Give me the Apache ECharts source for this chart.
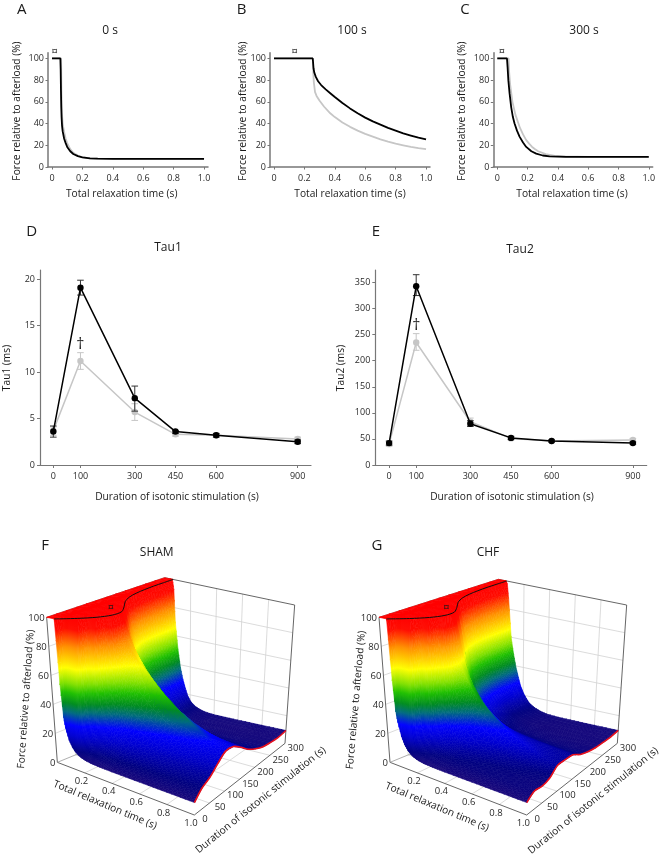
<!DOCTYPE html>
<html>
<head>
<meta charset="utf-8">
<style>html,body{margin:0;background:#fff}#main{width:661px;height:856px;filter:blur(0.5px)}</style>
<script src="https://cdn.jsdelivr.net/npm/echarts@6/dist/echarts.min.js"></script>
</head>
<body>
<div id="main"></div>
<script>
// panels A-C: relaxation curves [time (s), force (%)]
const curveA_black = [[0,100],[.055,100],[.057,90],[.059,70],[.061,55],[.063,46],[.066,38],[.07,33],[.08,26],[.09,22],[.1,18.5],[.12,14.5],[.14,12],[.17,10],[.2,8.9],[.25,8],[.3,7.7],[.4,7.5],[.6,7.5],[.8,7.5],[1,7.5]];
const curveA_grey = [[0,100],[.06,100],[.062,70],[.065,50],[.07,40],[.08,32],[.09,26],[.1,22],[.12,16.5],[.14,13],[.17,10.5],[.2,9],[.25,8],[.3,7.7],[.5,7.5],[1,7.5]];
const curveB_black = [[0,100],[.255,100],[.26,91],[.265,87],[.275,83],[.29,79],[.31,75.5],[.34,71.5],[.37,68],[.4,64.5],[.45,59],[.5,54],[.55,49.5],[.6,45.5],[.65,42],[.7,39],[.75,36],[.8,33.5],[.85,31],[.9,29],[.95,27],[1,25.5]];
const curveB_grey = [[0,100],[.255,100],[.258,88],[.262,78],[.27,69],[.28,65.5],[.3,61],[.33,55.5],[.37,49.5],[.4,46],[.45,41],[.5,37],[.55,33.5],[.6,30.5],[.65,28],[.7,25.5],[.75,23.3],[.8,21.5],[.85,20],[.9,18.5],[.95,17.4],[1,16.5]];
const curveC_black = [[0,100],[.064,100],[.068,92],[.073,80],[.081,68],[.092,55],[.103,46],[.114,40],[.13,33.5],[.147,28],[.17,22.5],[.191,18.5],[.225,14.5],[.257,12.3],[.3,10.6],[.345,9.8],[.45,9.4],[.7,9.3],[1,9.3]];
const curveC_grey = [[0,100],[.075,100],[.078,88],[.085,76],[.1,60],[.12,48],[.15,36],[.17,30],[.19,25],[.21,21.5],[.23,18.5],[.25,16.3],[.27,14.5],[.32,11.8],[.38,10.2],[.45,9.7],[.6,9.4],[1,9.3]];
const relaxTicks = [0,.2,.4,.6,.8,1];
const forceTicks = [0,20,40,60,80,100];

// panels D-E
const stimDurations = [0,100,300,450,600,900];
const tau1Ticks = [0,5,10,15,20];
const tau1_black = [3.6,19.1,7.2,3.6,3.2,2.5];
const tau1_black_low = [3,18.3,5.8,3.4,3,2.3];
const tau1_black_high = [4.2,19.9,8.5,3.7,3.4,2.7];
const tau1_grey = [3.7,11.2,5.7,3.3,3.2,2.8];
const tau1_grey_low = [3.2,10.3,4.8,3.1,3,2.6];
const tau1_grey_high = [4.1,12.1,6.6,3.5,3.4,3];
const tau2Ticks = [0,50,100,150,200,250,300,350];
const tau2_black = [42,343,79,52,46,42];
const tau2_black_low = [38,325,74,49,44,40];
const tau2_black_high = [46,365,85,55,48,44];
const tau2_grey = [40,235,83,51,46,48];
const tau2_grey_low = [36,220,75,48,44,45];
const tau2_grey_high = [44,252,90,54,48,51];

// panels F-G: force surface, one row per duration, one column per time
const surfTimes = [0,.05,.06,.07,.08,.1,.12,.14,.16,.18,.2,.22,.25,.27,.3,.35,.4,.5,.6,.7,.8,.9,1];
const surfDurations = [0,25,50,75,100,125,150,175,200,225,250,275,300];
const plateauEnd = [.05,.14,.21,.25,.25,.2,.14,.1,.08,.07,.065,.065,.065];
const shamForce = [
  [100,100,55,33,26,18.5,14.5,12,10.5,9.5,8.9,8.4,8,7.9,7.7,7.6,7.5,7.5,7.5,7.5,7.5,7.5,7.5],
  [100,100,100,100,100,100,100,100,72,48,36,29,24,22,20,18,17,15.5,14.8,14.2,13.7,13.3,13],
  [100,100,100,100,100,100,100,100,100,100,100,78,55,46,38,31,27,23,20.5,19,17.8,16.8,16],
  [100,100,100,100,100,100,100,100,100,100,100,100,100,80,64,52,45,36,31,27,24.5,22.5,21],
  [100,100,100,100,100,100,100,100,100,100,100,100,100,83,76,70,65,54.5,46,39.5,33.5,29,25.5],
  [100,100,100,100,100,100,100,100,100,100,100,86,76,72,67,60,54,45,38,33,29.5,27,25],
  [100,100,100,100,100,100,100,100,84,73,66,61,55,52,47.5,41,36,30,26.5,24.5,23,22,21],
  [100,100,100,100,100,100,80,66,56,49,43,38.5,33,30.5,27.5,24,22,19.5,18,17,16.5,16.2,16],
  [100,100,100,100,100,74,58,47,39,33,28.5,25,21.5,20,18,16,15,14,13.5,13,12.8,12.6,12.5],
  [100,100,100,100,86,62,47,37,30,25,21.5,19,16.5,15,13.5,12,11.2,10.6,10.3,10.1,10,10,10],
  [100,100,100,96,80,58,44,34,27,22,18.5,16,13.5,12.5,11.3,10.2,9.6,9.2,9,9,9,9,9],
  [100,100,100,95,78,56,42,32,25.5,21,17.5,15,12.8,11.8,10.7,9.7,9.2,8.8,8.6,8.5,8.5,8.5,8.5],
  [100,100,100,93,70,51,38,30,24,19,16,14,12.2,11.5,10.6,9.8,9.5,9.4,9.3,9.3,9.3,9.3,9.3]
];
const chfForce = [
  [100,100,58,37,30,21,16,13,11,9.8,9,8.5,8,7.9,7.7,7.6,7.5,7.5,7.5,7.5,7.5,7.5,7.5],
  [100,100,100,100,100,100,100,100,68,42,30,24,19,17,15,13.5,12.8,12,11.7,11.4,11.2,11.1,11],
  [100,100,100,100,100,100,100,100,100,100,100,72,44,35,27,21,18,15,13.5,12.5,11.7,11,10.5],
  [100,100,100,100,100,100,100,100,100,100,100,100,100,72,52,38,30,22.5,18.5,16,14.5,13,12],
  [100,100,100,100,100,100,100,100,100,100,100,100,100,69,61,52,46,37,30.5,25.5,21.5,18.5,16.5],
  [100,100,100,100,100,100,100,100,100,100,100,74,60,55,49,42,36,29,24.5,21.5,19.5,17.8,16.5],
  [100,100,100,100,100,100,100,100,76,61,52,46,39,35.5,31.5,27,24,21,19.5,18.3,17.5,16.7,16],
  [100,100,100,100,100,100,76,60,49,41,35,30.5,26,23.5,21,18.5,17,15.3,14.3,13.6,13.1,12.7,12.5],
  [100,100,100,100,100,72,56,45,37,31,26.5,23,19.5,17.8,15.8,13.8,12.7,11.6,11.1,10.8,10.6,10.5,10.5],
  [100,100,100,100,88,64,49,39,32,27,23,20,17,15.5,13.8,12,11,10.2,9.8,9.6,9.4,9.3,9.3],
  [100,100,100,97,82,60,46,36,29,24,20,17,14.3,13,11.7,10.4,9.7,9.2,9,9,9,9,9],
  [100,100,100,96,84,60,47,38,31,25.5,21.5,18.5,15,13.6,12.2,10.7,9.9,9.3,9,8.8,8.7,8.7,8.7],
  [100,100,100,98,88,60,48,39,32,26,22,19,15.5,14,12.6,11,10,9.5,9.4,9.3,9.3,9.3,9.3]
];
const surfTimeTicks = [.2,.4,.6,.8,1];
const surfDurTicks = [0,50,100,150,200,250,300];
const surfForceTicks = [0,20,40,60,80,100];
const surfGridTimes = [.2,.4,.6,.8];
const surfGridForce = [20,40,60,80];

const FONT = '"Open Sans", "Noto Sans", sans-serif';
const BLACK = '#000', GREY = '#c6c6c6', AXIS = '#777', TEXT = '#2a2a2a';

// force -> colour, jet-like scale of the surface plots
const colourScale = [
  [0,'#1c0a7a'],[7,'#1c0a7a'],[13,'#000080'],[22,'#0000d0'],[29,'#0000ff'],[37,'#006a80'],[43,'#008c20'],
  [50,'#20c000'],[56,'#80e000'],[66,'#ffff00'],[80,'#ff9000'],[92,'#ff0c00'],[100,'#ff0000']
];
function hexRgb(h) { return [1,3,5].map(i => parseInt(h.substr(i,2),16)); }
function colourAt(z) {
  for (let i = 1; i < colourScale.length; i++) {
    if (z <= colourScale[i][0]) {
      const a = colourScale[i-1], b = colourScale[i];
      const f = (z - a[0]) / (b[0] - a[0]);
      const ca = hexRgb(a[1]), cb = hexRgb(b[1]);
      return 'rgb(' + ca.map((v,k) => Math.round(v + (cb[k]-v)*f)).join(',') + ')';
    }
  }
  return colourScale[colourScale.length-1][1];
}

// box corners of the 3d plots in panel units (3 units = 1 px)
const boxF = {
  floor: [[172,697],[583,855],[855,640],[499,563]],
  top: [[140,262],[588,357],[884,225],[494,143]]
};
const boxG = {
  floor: [[180,697],[590,855],[862,640],[508,563]],
  top: [[147,262],[596,357],[890,225],[505,148]]
};
function project(box, t, d, z) {
  const u = t, v = d / 300, w = z / 100;
  const mix = c => {
    const p = [0,1].map(k =>
      (1-u)*(1-v)*c[0][k] + u*(1-v)*c[1][k] + u*v*c[2][k] + (1-u)*v*c[3][k]);
    return p;
  };
  const a = mix(box.floor), b = mix(box.top);
  return [a[0] + (b[0]-a[0])*w, a[1] + (b[1]-a[1])*w];
}

// one triangle of the mesh, shaded across its own force gradient
function triangle(pts, zs) {
  const zmax = Math.max(...zs), zmin = Math.min(...zs);
  let fill = colourAt(zs[0]);
  const e1x = pts[1][0]-pts[0][0], e1y = pts[1][1]-pts[0][1];
  const e2x = pts[2][0]-pts[0][0], e2y = pts[2][1]-pts[0][1];
  const det = e1x*e2y - e1y*e2x;
  if (zmax - zmin > 0.01 && Math.abs(det) > 1e-6) {
    const dz1 = zs[1]-zs[0], dz2 = zs[2]-zs[0];
    const gx = (dz1*e2y - dz2*e1y) / det, gy = (e1x*dz2 - e2x*dz1) / det;
    const g2 = gx*gx + gy*gy;
    const s = pts[zs.indexOf(zmin)];
    const r = (zmax - zmin) / g2;
    const stops = [{ offset: 0, color: colourAt(zmin) }];
    colourScale.forEach(c => {
      if (c[0] > zmin && c[0] < zmax) stops.push({ offset: (c[0]-zmin)/(zmax-zmin), color: c[1] });
    });
    stops.push({ offset: 1, color: colourAt(zmax) });
    fill = { type: 'linear', x: s[0], y: s[1], x2: s[0]+gx*r, y2: s[1]+gy*r, global: true, colorStops: stops };
  }
  return { type: 'polygon', shape: { points: pts },
    style: { fill: fill, stroke: fill, lineWidth: 0.6, lineJoin: 'round' }, silent: true };
}

function surfaceCells(force) {
  const cells = [];
  // back to front so that the nearer sheet covers the farther one
  for (let j = surfDurations.length - 2; j >= 0; j--) {
    for (let i = 0; i < surfTimes.length - 1; i++) {
      cells.push([surfTimes[i], surfDurations[j], surfTimes[i+1], surfDurations[j+1],
        force[j][i], force[j][i+1], force[j+1][i], force[j+1][i+1]]);
    }
  }
  return cells;
}

const CELL_STEPS = 3; // each cell is drawn as a small patch so the shading has no creases

function surfaceSeries(box, force, axis) {
  return {
    type: 'custom', coordinateSystem: 'cartesian2d', xAxisIndex: axis, yAxisIndex: axis,
    z: 3, clip: false, silent: true, progressive: 0, animation: false,
    data: surfaceCells(force),
    renderItem: function (params, api) {
      const v = [0,1,2,3,4,5,6,7].map(k => api.value(k));
      const flat = Math.max(v[4],v[5],v[6],v[7]) - Math.min(v[4],v[5],v[6],v[7]) < 0.01;
      const n = flat ? 1 : CELL_STEPS;
      const node = (a, b) => {
        const z = (1-a)*(1-b)*v[4] + a*(1-b)*v[5] + (1-a)*b*v[6] + a*b*v[7];
        return { z: z, p: api.coord(project(box, v[0]+(v[2]-v[0])*a, v[1]+(v[3]-v[1])*b, z)) };
      };
      const kids = [];
      for (let jb = n - 1; jb >= 0; jb--) {
        for (let ia = 0; ia < n; ia++) {
          const q00 = node(ia/n, jb/n), q10 = node((ia+1)/n, jb/n), q01 = node(ia/n, (jb+1)/n), q11 = node((ia+1)/n, (jb+1)/n);
          if (Math.abs(q00.z-q11.z) <= Math.abs(q10.z-q01.z)) {
            kids.push(triangle([q00.p,q11.p,q01.p],[q00.z,q11.z,q01.z]), triangle([q00.p,q10.p,q11.p],[q00.z,q10.z,q11.z]));
          } else {
            kids.push(triangle([q00.p,q10.p,q01.p],[q00.z,q10.z,q01.z]), triangle([q10.p,q11.p,q01.p],[q10.z,q11.z,q01.z]));
          }
        }
      }
      return { type: 'group', children: kids };
    }
  };
}

// walls, floor and tick labels behind the surface
function frameSeries(box, axis) {
  return {
    type: 'custom', coordinateSystem: 'cartesian2d', xAxisIndex: axis, yAxisIndex: axis,
    z: 2, clip: false, silent: true, animation: false, data: [[0,0]],
    renderItem: function (params, api) {
      const p = (t,d,z) => api.coord(project(box, t, d, z));
      const kids = [];
      const seg = (a, b, color, w) => kids.push({
        type: 'line', shape: { x1: a[0], y1: a[1], x2: b[0], y2: b[1] },
        style: { stroke: color, lineWidth: w }, silent: true
      });
      const txt = (s, pos, dx, dy, align) => {
        const q = project(box, pos[0], pos[1], pos[2]);
        const c = api.coord([q[0] + dx, q[1] + dy]);
        kids.push({ type: 'text', x: c[0], y: c[1], silent: true,
          style: { text: s, align: align, verticalAlign: 'middle', fill: TEXT, font: '9.5px ' + FONT } });
      };
      surfGridForce.forEach(z => {
        seg(p(0,300,z), p(1,300,z), '#d2d2d2', 0.8);
        seg(p(0,0,z), p(0,300,z), '#d2d2d2', 0.8);
      });
      surfGridTimes.forEach(t => {
        seg(p(t,300,0), p(t,300,100), '#d2d2d2', 0.8);
        seg(p(t,0,0), p(t,300,0), '#d2d2d2', 0.8);
      });
      surfDurTicks.slice(1,-1).forEach(d => {
        seg(p(0,d,0), p(1,d,0), '#d2d2d2', 0.8);
        seg(p(0,d,0), p(0,d,100), '#d2d2d2', 0.8);
      });
      seg(p(0,0,100), p(0,300,100), '#777', 0.9);
      seg(p(0,300,100), p(1,300,100), '#555', 0.9);
      seg(p(1,300,100), p(1,300,0), '#555', 0.9);
      seg(p(0,0,100), p(0,0,0), '#555', 0.9);
      seg(p(0,0,0), p(1,0,0), '#555', 0.9);
      seg(p(1,0,0), p(1,300,0), '#555', 0.9);
      seg(p(0,0,0), p(0,300,0), '#999', 0.8);
      surfForceTicks.forEach(z => txt(String(z), [0,0,z], -6, 3, 'right'));
      surfTimeTicks.forEach(t => txt(t.toFixed(1), [t,0,0], -10, 25, 'center'));
      surfDurTicks.forEach(d => txt(String(d), [1,d,0], 32, 14, 'center'));
      return { type: 'group', children: kids };
    }
  };
}

// plateau edge on top of the surface and the red rim at t = 1
function edgeSeries(box, force, axis) {
  return {
    type: 'custom', coordinateSystem: 'cartesian2d', xAxisIndex: axis, yAxisIndex: axis,
    z: 4, clip: false, silent: true, animation: false, data: [[0,0]],
    renderItem: function (params, api) {
      const plateau = surfDurations.map((d,j) => api.coord(project(box, plateauEnd[j], d, 100)));
      const rim = surfDurations.map((d,j) => api.coord(project(box, 1, d, force[j][force[j].length-1])));
      return { type: 'group', children: [
        { type: 'polyline', shape: { points: plateau, smooth: 0.3 }, style: { stroke: '#111', lineWidth: 1, fill: null }, silent: true },
        { type: 'polyline', shape: { points: rim, smooth: 0.3 }, style: { stroke: '#e8101c', lineWidth: 1.6, fill: null }, silent: true }
      ] };
    }
  };
}

function relaxAxes(i) {
  return {
    x: {
      type: 'value', gridIndex: i, min: -0.0263, max: 1.026,
      splitLine: { show: false },
      axisLine: { onZero: false, lineStyle: { color: AXIS, width: 1.5 } },
      axisTick: { customValues: relaxTicks, length: 2.5, lineStyle: { color: AXIS, width: 1 } },
      axisLabel: { customValues: relaxTicks, color: TEXT, fontSize: 9, fontFamily: FONT, margin: 7,
        formatter: v => v === 0 ? '0' : v.toFixed(1) }
    },
    y: {
      type: 'value', gridIndex: i, min: 0, max: 105.3,
      splitLine: { show: false },
      axisLine: { onZero: false, lineStyle: { color: AXIS, width: 1.5 } },
      axisTick: { customValues: forceTicks, length: 2.5, lineStyle: { color: AXIS, width: 1 } },
      axisLabel: { customValues: forceTicks, color: TEXT, fontSize: 9, fontFamily: FONT, margin: 4 }
    }
  };
}

function tauAxes(i, xmin, xmax, ymax, yticks) {
  return {
    x: {
      type: 'value', gridIndex: i, min: xmin, max: xmax,
      splitLine: { show: false },
      axisLine: { onZero: false, lineStyle: { color: AXIS, width: 1.2 } },
      axisTick: { customValues: stimDurations, length: 3, lineStyle: { color: AXIS, width: 1 } },
      axisLabel: { customValues: stimDurations, color: TEXT, fontSize: 9, fontFamily: FONT, margin: 7 }
    },
    y: {
      type: 'value', gridIndex: i, min: 0, max: ymax,
      splitLine: { show: false },
      axisLine: { onZero: false, lineStyle: { color: AXIS, width: 1.2 } },
      axisTick: { customValues: yticks, length: 3, lineStyle: { color: AXIS, width: 1 } },
      axisLabel: { customValues: yticks, color: TEXT, fontSize: 9, fontFamily: FONT, margin: 5 }
    }
  };
}

function curve(i, data, color, z) {
  return { type: 'line', xAxisIndex: i, yAxisIndex: i, data: data, showSymbol: false, symbol: 'none', z: z,
    lineStyle: { color: color, width: 1.8 }, animation: false, silent: true };
}

function tauLine(i, values, color, z) {
  return { type: 'line', xAxisIndex: i, yAxisIndex: i, data: stimDurations.map((d,k) => [d, values[k]]),
    symbol: 'circle', symbolSize: 6.4, z: z, itemStyle: { color: color }, lineStyle: { color: color, width: 1.5 },
    animation: false, silent: true };
}

function tauErrors(i, low, high, color, z) {
  return {
    type: 'custom', coordinateSystem: 'cartesian2d', xAxisIndex: i, yAxisIndex: i, z: z, silent: true, animation: false,
    data: stimDurations.map((d,k) => [d, low[k], high[k]]),
    renderItem: function (params, api) {
      const a = api.coord([api.value(0), api.value(1)]), b = api.coord([api.value(0), api.value(2)]);
      const st = { stroke: color, lineWidth: 1 };
      const cap = 3.3;
      return { type: 'group', children: [
        { type: 'line', shape: { x1: a[0], y1: a[1], x2: b[0], y2: b[1] }, style: st },
        { type: 'line', shape: { x1: a[0]-cap, y1: a[1], x2: a[0]+cap, y2: a[1] }, style: st },
        { type: 'line', shape: { x1: b[0]-cap, y1: b[1], x2: b[0]+cap, y2: b[1] }, style: st }
      ] };
    }
  };
}

// hidden axes that carry the 3d plots, in panel units
function sceneAxes(i, w) {
  return {
    x: { type: 'value', gridIndex: i, min: 0, max: w, show: false },
    y: { type: 'value', gridIndex: i, min: 0, max: 978, inverse: true, show: false }
  };
}

const axes = [relaxAxes(0), relaxAxes(1), relaxAxes(2),
  tauAxes(3, -49, 949, 21, tau1Ticks), tauAxes(4, -51, 951, 374, tau2Ticks),
  sceneAxes(5, 990), sceneAxes(6, 993)];

// texts: [string, x, y, size, rotation in degrees]
const panelTexts = [
  ['A',21.7,9.5,15,0],['B',241.7,9.5,15,0],['C',465,9.5,15,0],['D',31.7,231.7,15,0],['E',376,232,15,0],['F',45,545.7,15,0],['G',377,546,15,0],
  ['0 s',110,31,12,0],['100 s',352,31,12,0],['300 s',584,31,12,0],['Tau1',168,248,12,0],['Tau2',520,250,12,0],['SHAM',156.7,552.7,12,0],['CHF',488,552.7,12,0],
  ['Total relaxation time (s)',121.7,194,10.2,0],['Total relaxation time (s)',350,194,10.2,0],['Total relaxation time (s)',572,194,10.2,0],
  ['Force relative to afterload (%)',17,111,10.2,90],['Force relative to afterload (%)',243,111,10.2,90],['Force relative to afterload (%)',461.7,111,10.2,90],
  ['Duration of isotonic stimulation (s)',177,497,10.2,0],['Duration of isotonic stimulation (s)',512,497,10.2,0],
  ['Tau1 (ms)',7,368,10.2,90],['Tau2 (ms)',341,368,10.2,90],
  ['Total relaxation time (s)',105,805,10.2,-22.7],['Total relaxation time (s)',437,807,10.2,-22.7],
  ['Duration of isotonic stimulation (s)',260.7,800,10.2,38.8],['Duration of isotonic stimulation (s)',593.3,800.7,10.2,38.8],
  ['Force relative to afterload (%)',26,699,10.2,86],['Force relative to afterload (%)',356,700,10.2,85],
  ['¤',54.7,52,11,0],['¤',294.7,52,11,0],['¤',502,52,11,0],['¤',111,608.3,11,0],['¤',446.3,608.3,11,0],
  ['†',80.3,344,16,0],['†',416.3,325,16,0]
];

const chart = echarts.init(document.getElementById('main'), null, { renderer: 'canvas' });
chart.setOption({
  animation: false,
  backgroundColor: '#fff',
  grid: [
    { left: 48, top: 52.7, width: 160, height: 114.3 },
    { left: 270, top: 52.7, width: 160, height: 114.3 },
    { left: 493.3, top: 52.7, width: 159.4, height: 114.3 },
    { left: 40, top: 270, width: 271, height: 195 },
    { left: 375.3, top: 270, width: 271.4, height: 195 },
    { left: 0, top: 530, width: 330, height: 326 },
    { left: 330, top: 530, width: 331, height: 326 }
  ],
  xAxis: axes.map(a => a.x),
  yAxis: axes.map(a => a.y),
  graphic: panelTexts.map(t => ({
    type: 'text', x: t[1], y: t[2], rotation: t[4] * Math.PI / 180, z: 20, silent: true,
    style: { text: t[0], align: 'center', verticalAlign: 'middle', fill: '#1a1a1a', font: t[3] + 'px ' + FONT }
  })),
  series: [
    curve(0, curveA_grey, GREY, 2), curve(0, curveA_black, BLACK, 3),
    curve(1, curveB_grey, GREY, 2), curve(1, curveB_black, BLACK, 3),
    curve(2, curveC_grey, GREY, 2), curve(2, curveC_black, BLACK, 3),
    tauErrors(3, tau1_grey_low, tau1_grey_high, '#c6c6c6', 2), tauLine(3, tau1_grey, GREY, 3),
    tauErrors(3, tau1_black_low, tau1_black_high, '#333', 4), tauLine(3, tau1_black, BLACK, 5),
    tauErrors(4, tau2_grey_low, tau2_grey_high, '#c6c6c6', 2), tauLine(4, tau2_grey, GREY, 3),
    tauErrors(4, tau2_black_low, tau2_black_high, '#333', 4), tauLine(4, tau2_black, BLACK, 5),
    frameSeries(boxF, 5), surfaceSeries(boxF, shamForce, 5), edgeSeries(boxF, shamForce, 5),
    frameSeries(boxG, 6), surfaceSeries(boxG, chfForce, 6), edgeSeries(boxG, chfForce, 6)
  ]
});
</script>
</body>
</html>
